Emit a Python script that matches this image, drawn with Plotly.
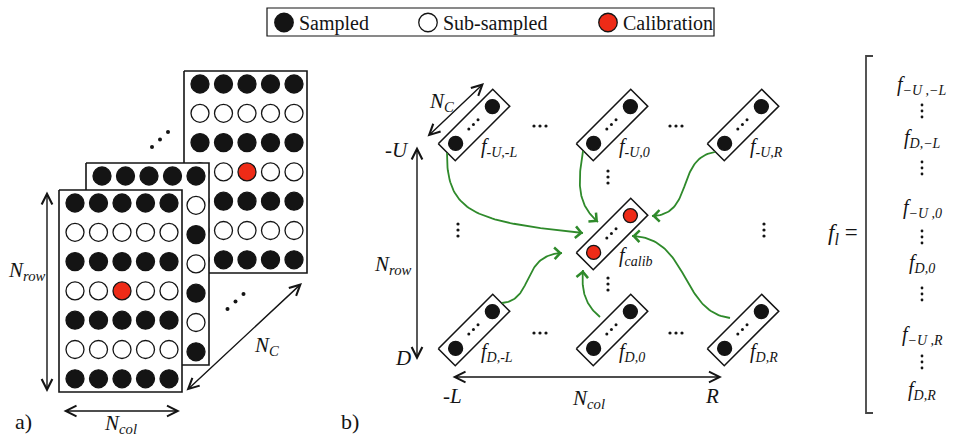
import numpy as np
import plotly.graph_objects as go

# ---------------- content ----------------
KEY_LABELS = ["Sampled", "Sub-sampled", "Calibration"]
KEY_STATES = [1, 0, 2]

# one channel frame: 1 = sampled, 0 = sub-sampled, 2 = calibration pixel
FRAME = [
    [1, 1, 1, 1, 1],
    [0, 0, 0, 0, 0],
    [1, 1, 1, 1, 1],
    [0, 0, 2, 0, 0],
    [1, 1, 1, 1, 1],
    [0, 0, 0, 0, 0],
    [1, 1, 1, 1, 1],
]

# neighbourhood vectors f_{row,col} taken around the calibration pixel
ROW_KEYS = ["-U", "D"]
COL_KEYS = ["-L", "0", "R"]
CALIB_KEY = "calib"
# entries of the stacked feature vector f_l
VECTOR_ENTRIES = ["−U ,−L", "D,−L", "−U ,0", "D,0", "−U ,R", "D,R"]

# ---------------- styles / layout geometry ----------------
W, H = 972, 436
FONT = "Liberation Serif"
INK = "#141414"
RED = "#ee2b17"
GREEN = "#2f8a2b"

STATE_STYLE = {
    1: dict(color=INK, line=dict(color=INK, width=1.3)),
    0: dict(color="white", line=dict(color=INK, width=1.3)),
    2: dict(color=RED, line=dict(color=INK, width=1.3)),
}

fig = go.Figure()
annotations = []
shapes = []


def text(x, y, s, size=20, xanchor="center", yanchor="middle", color=INK):
    annotations.append(dict(x=x, y=y, xref="x", yref="y", text=s, showarrow=False,
                            xanchor=xanchor, yanchor=yanchor,
                            font=dict(family=FONT, size=size, color=color)))


def arrow(x0, y0, x1, y1, color=INK, both=False, head=5, width=1.4, size=1.5):
    a = dict(x=x1, y=y1, ax=x0, ay=y0, xref="x", yref="y", axref="x", ayref="y",
             text="", showarrow=True, arrowhead=head, arrowwidth=width,
             arrowsize=size, arrowcolor=color, standoff=0, startstandoff=0)
    if both:
        a.update(arrowside="end+start", startarrowhead=head, startarrowsize=size)
    annotations.append(a)


def dots(xs, ys, size=3.6):
    fig.add_trace(go.Scatter(x=xs, y=ys, mode="markers", hoverinfo="skip",
                             marker=dict(size=size, color=INK), showlegend=False))


def polygon(xs, ys, width=1.6):
    xs = list(xs) + [xs[0]]
    ys = list(ys) + [ys[0]]
    fig.add_trace(go.Scatter(x=xs, y=ys, mode="lines", fill="toself",
                             fillcolor="white", hoverinfo="skip",
                             line=dict(color=INK, width=width), showlegend=False))


def circles(xs, ys, states, size):
    for st in (1, 0, 2):
        px = [x for x, s in zip(xs, states) if s == st]
        py = [y for y, s in zip(ys, states) if s == st]
        if px:
            fig.add_trace(go.Scatter(x=px, y=py, mode="markers", hoverinfo="skip",
                                     marker=dict(size=size, **STATE_STYLE[st]),
                                     showlegend=False))


# ---------------- key ----------------
shapes.append(dict(type="rect", xref="x", yref="y", x0=267, y0=8, x1=714, y1=36,
                   line=dict(color=INK, width=1.2), fillcolor="white", layer="below"))
key_x = [284, 428, 608]
circles(key_x, [22.5] * 3, KEY_STATES, 18.5)
for kx, lab in zip(key_x, KEY_LABELS):
    text(kx + 13, 23, lab, size=20, xanchor="left")

# ---------------- panel a: stacked channel frames ----------------
FRAME_ORIGINS = [(184, 71), (86, 163), (59, 190)]   # back, middle, front
FW, FH = 123, 202
CX0, CY0, CDX, CDY = 16, 13, 23.5, 29.3
n_rows, n_cols = len(FRAME), len(FRAME[0])
for ox, oy in FRAME_ORIGINS:
    polygon([ox, ox + FW, ox + FW, ox], [oy, oy, oy + FH, oy + FH])
    xs, ys, st = [], [], []
    for r in range(n_rows):
        for c in range(n_cols):
            xs.append(ox + CX0 + c * CDX)
            ys.append(oy + CY0 + r * CDY)
            st.append(FRAME[r][c])
    circles(xs, ys, st, 18)

# diagonal ellipses between the frames
for bx, by in [(160, 139.5), (235.5, 301.5)]:
    dots([bx - 8, bx, bx + 8], [by + 7.5, by, by - 7.5], size=4)

arrow(47, 190, 47, 392, both=True)
arrow(62, 411, 180, 411, both=True)
arrow(185, 392, 302, 283, both=True)
text(27, 271, "<i>N</i><sub><i>row</i></sub>", size=21)
text(120, 424, "<i>N</i><sub><i>col</i></sub>", size=21)
text(266, 346, "<i>N</i><sub><i>C</i></sub>", size=21)
text(23, 421, "a)", size=22)

# ---------------- panel b: neighbourhood vectors ----------------
COL_X = {"-L": 474, "0": 612, "R": 743}
ROW_Y = {"-U": 125, "D": 330}
CALIB_C = (612, 234)
HL, HW = 38.5, 12.0        # half length / half width of a vector box
U = np.array([1, -1]) / np.sqrt(2)
V = np.array([1, 1]) / np.sqrt(2)


def vector_box(cx, cy, state, label):
    c = np.array([cx, cy])
    corners = [c - HL * U - HW * V, c + HL * U - HW * V,
               c + HL * U + HW * V, c - HL * U + HW * V]
    polygon([p[0] for p in corners], [p[1] for p in corners])
    ends = [c + 26 * U, c - 26 * U]
    circles([p[0] for p in ends], [p[1] for p in ends], [state, state], 14)
    mid = [c + t * U - 0.8 * V for t in (-6.5, 0, 6.5)]
    dots([p[0] for p in mid], [p[1] for p in mid], size=3)
    text(cx + 5, cy + 22, "<i>f</i><sub><i>%s</i></sub>" % label, size=20,
         xanchor="left")


for rk in ROW_KEYS:
    for ck in COL_KEYS:
        vector_box(COL_X[ck], ROW_Y[rk], 1, "%s,%s" % (rk, ck))
vector_box(CALIB_C[0], CALIB_C[1], 2, CALIB_KEY)

# ellipses in the neighbourhood grid
for hx, hy in [(540, 126), (676, 126), (540, 333), (676, 333)]:
    dots([hx - 6, hx, hx + 6], [hy, hy, hy], size=3.2)
for vx, vy in [(458, 230), (608, 177), (764, 230), (608, 284)]:
    dots([vx, vx, vx], [vy - 6, vy, vy + 6], size=3.2)

# green connections into the calibration vector (cubic Bezier control points)
LINKS = [
    [(447, 153), (446, 215), (480, 222), (583, 233)],
    [(583, 151), (577, 185), (578, 205), (598, 222)],
    [(715, 152), (675, 158), (695, 215), (652, 216)],
    [(502, 303), (535, 300), (520, 255), (562, 253)],
    [(600, 317), (585, 305), (581, 290), (583, 270)],
    [(730, 318), (680, 312), (690, 238), (632, 236)],
]
t = np.linspace(0, 1, 60)
for P in LINKS:
    P = np.array(P, dtype=float)
    B = ((1 - t) ** 3)[:, None] * P[0] + (3 * (1 - t) ** 2 * t)[:, None] * P[1] \
        + (3 * (1 - t) * t ** 2)[:, None] * P[2] + (t ** 3)[:, None] * P[3]
    fig.add_trace(go.Scatter(x=B[:, 0], y=B[:, 1], mode="lines", hoverinfo="skip",
                             line=dict(color=GREEN, width=1.8), showlegend=False))
    d = P[3] - P[2]
    d = d / np.linalg.norm(d)
    tail = P[3] - 6 * d
    arrow(tail[0], tail[1], P[3][0], P[3][1], color=GREEN, head=4, width=1.6, size=1.4)

# axes of the neighbourhood grid
arrow(426, 138, 484, 83, both=True)
arrow(417, 145, 417, 360, both=True)
arrow(451, 377, 722, 377, both=True)
text(441, 102, "<i>N</i><sub><i>C</i></sub>", size=21)
text(397, 150, "<i>-U</i>", size=21)
text(393, 265, "<i>N</i><sub><i>row</i></sub>", size=21)
text(403, 358, "<i>D</i>", size=21)
text(452, 396, "<i>-L</i>", size=21)
text(588, 399, "<i>N</i><sub><i>col</i></sub>", size=21)
text(712, 396, "<i>R</i>", size=21)
text(350, 421, "b)", size=22)

# ---------------- stacked vector f_l ----------------
shapes.append(dict(type="path", xref="x", yref="y",
                   path="M 873 56 L 866 56 L 866 413 L 873 413",
                   line=dict(color="#444", width=1.8)))
text(843, 234, "<i>f</i><sub><i>l</i></sub> =", size=23)
ENTRY_Y = [85, 138, 208, 263, 335, 390]
for ey, lab in zip(ENTRY_Y, VECTOR_ENTRIES):
    text(922, ey, "<i>f</i><sub><i>%s</i></sub>" % lab, size=20)
for gy in [111, 168, 237, 294, 362]:
    dots([922, 922, 922], [gy - 6, gy, gy + 6], size=2.8)

fig.update_layout(
    width=W, height=H, margin=dict(l=0, r=0, t=0, b=0),
    paper_bgcolor="white", plot_bgcolor="white", showlegend=False,
    xaxis=dict(range=[0, W], visible=False, fixedrange=True),
    yaxis=dict(range=[H, 0], visible=False, fixedrange=True),
    annotations=annotations, shapes=shapes,
)
fig.write_html("out.html")
